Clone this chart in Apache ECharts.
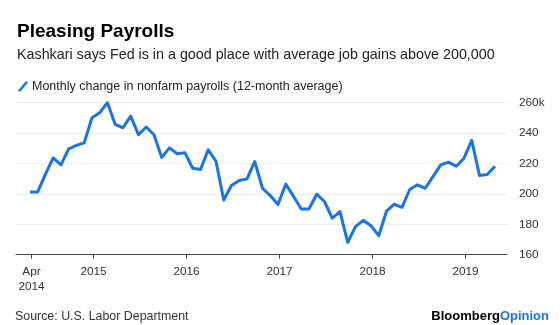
<!DOCTYPE html>
<html>
<head>
<meta charset="utf-8">
<script src="https://cdn.jsdelivr.net/npm/echarts@6/dist/echarts.min.js"></script>
<style>
html,body{margin:0;padding:0;background:#fff;}
#chart{width:560px;height:325px;}
</style>
</head>
<body>
<div id="chart"></div>
<script>
// Monthly data, Apr 2014 .. Apr 2019 (12-month average, thousands)
var startMonth = 4; // months since Jan 2014 for first point (Apr 2014)
var payrolls = [
  201.3, 201.3, 213, 223.7, 219.1, 229.7, 231.9, 233.6, 250.1, 253.4,
  260, 245.7, 243.5, 251.2, 238.9, 244, 238.9, 224, 230.3, 226.4,
  227, 216.9, 216, 229, 221.5, 196, 205.5, 208.8, 209.9, 221.3,
  203.7, 198.9, 193, 206.4, 198.5, 190.1, 190.1, 199.8, 195, 184,
  188.4, 168.1, 178.5, 182.6, 179.1, 172.5, 188.6, 193.2, 191.2, 202.9,
  206, 203.7, 211.4, 219.1, 220.9, 218.2, 223.5, 235.2, 212.1, 212.7,
  218.2
];
var xTickMonths = [4, 12, 24, 36, 48, 60];
var xTickLabels = ['Apr\n2014', '2015', '2016', '2017', '2018', '2019'];
var yTicks = [160, 180, 200, 220, 240, 260];
var yTickLabels = ['160', '180', '200', '220', '240', '260k'];
var seriesName = 'Monthly change in nonfarm payrolls (12-month average)';

var FONT = '"Liberation Sans", Arial, sans-serif';
var BLUE = '#1a73e8';

var seriesData = payrolls.map(function (v, i) { return [startMonth - 0.2 + i, v]; });

var chart = echarts.init(document.getElementById('chart'), null, {renderer: 'canvas'});
chart.setOption({
  animation: false,
  backgroundColor: '#fff',
  textStyle: {fontFamily: FONT},
  title: [
    {text: 'Pleasing Payrolls', left: 12, top: 17,
     textStyle: {fontFamily: FONT, fontSize: 19, fontWeight: 'bold', color: '#000'}},
    {text: 'Kashkari says Fed is in a good place with average job gains above 200,000', left: 12, top: 43,
     textStyle: {fontFamily: FONT, fontSize: 14.3, fontWeight: 'normal', color: '#222'}}
  ],
  legend: {
    left: 13, top: 75, itemWidth: 10, itemHeight: 11, itemGap: 10,
    icon: 'path://M8,0 L10,1.6 L2,11 L0,9.4 Z',
    textStyle: {fontFamily: FONT, fontSize: 12.5, color: '#222', padding: [0, 0, 0, -1]},
    data: [{name: seriesName, itemStyle: {color: BLUE}}]
  },
  grid: {left: 16, right: 53, top: 102.7, bottom: 70.3, containLabel: false},
  xAxis: {
    type: 'value', min: 2, max: 65.35,
    axisLine: {show: true, lineStyle: {color: '#444', width: 1}},
    axisTick: {show: true, customValues: xTickMonths, length: 4, lineStyle: {color: '#444'}},
    axisLabel: {
      customValues: xTickMonths, margin: 10, fontFamily: FONT, fontSize: 11.8, color: '#333', lineHeight: 15,
      formatter: function (v) { var k = xTickMonths.indexOf(v); return k >= 0 ? xTickLabels[k] : ''; }
    },
    splitLine: {show: false}
  },
  yAxis: {
    type: 'value', position: 'right', min: 160, max: 260, interval: 20,
    axisLine: {show: false}, axisTick: {show: false},
    axisLabel: {
      margin: 12, fontFamily: FONT, fontSize: 11.8, color: '#333',
      formatter: function (v) { var k = yTicks.indexOf(v); return k >= 0 ? yTickLabels[k] : ''; }
    },
    splitLine: {show: true, lineStyle: {color: '#ebebeb', width: 1}}
  },
  series: [{
    name: seriesName, type: 'line', data: seriesData, symbol: 'none',
    lineStyle: {color: BLUE, width: 3, join: 'round'}, itemStyle: {color: BLUE}
  }],
  graphic: [
    {type: 'text', left: 15, top: 311,
     style: {text: 'Source: U.S. Labor Department', font: '12.4px ' + FONT, fill: '#333'}},
    {type: 'text', right: 11, top: 310,
     style: {rich: {a: {fontFamily: FONT, fontSize: 13, fontWeight: 'bold', fill: '#000', color: '#000'},
                    b: {fontFamily: FONT, fontSize: 13, fontWeight: 'bold', fill: BLUE, color: BLUE}},
             text: '{a|Bloomberg}{b|Opinion}'}}
  ]
});
</script>
</body>
</html>
